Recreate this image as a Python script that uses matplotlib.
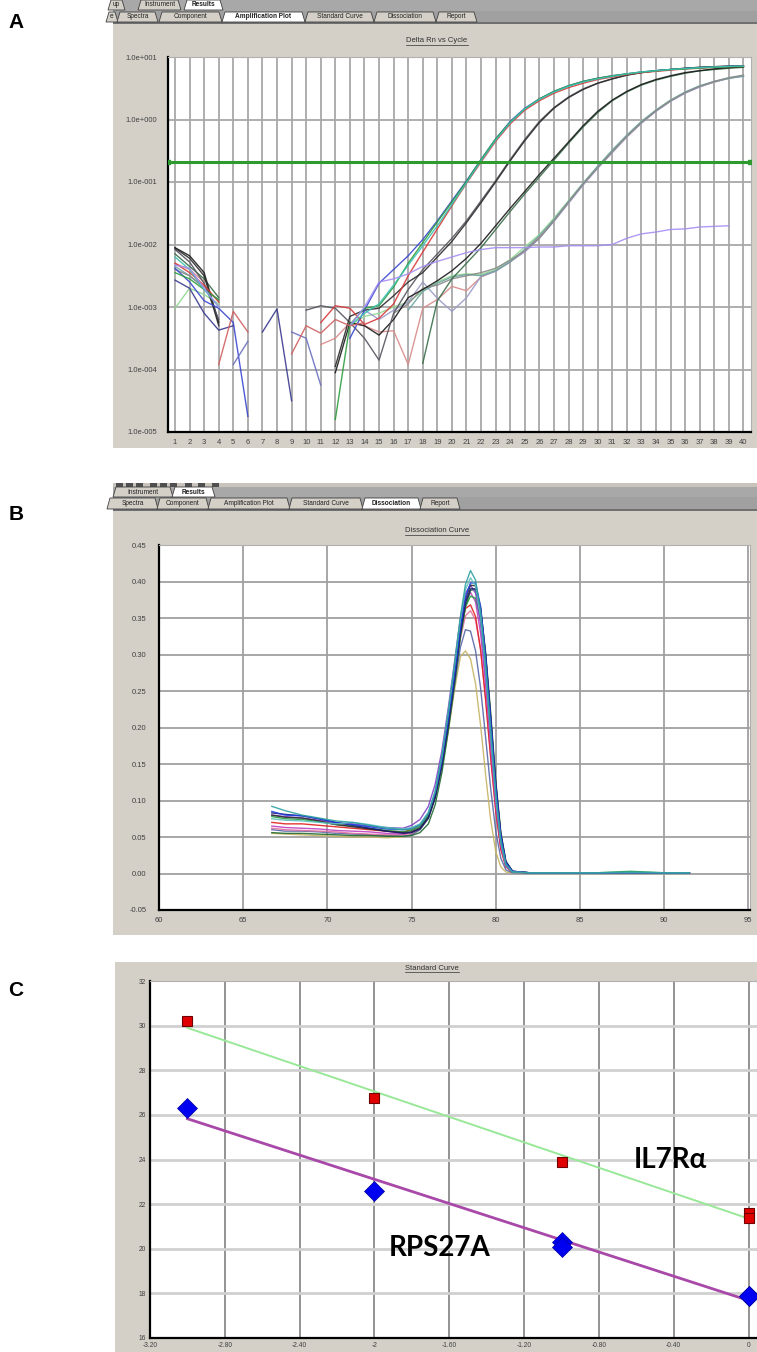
import numpy as np
import matplotlib
matplotlib.use("Agg")
import matplotlib.pyplot as plt
from matplotlib.patches import Rectangle, Polygon
from matplotlib.lines import Line2D

N = np.nan
W, H = 757, 1352

# ---------------- Panel A data: log10(Delta Rn) per cycle 1..40 ----------------
cycles = list(range(1, 41))
threshold = 0.21
amp_cyan = [-2.20, -2.40, -2.72, -3.00] + [N]*8 + [
    -3.30, -3.10, -2.95, -2.65, -2.33, -2.02, -1.70, -1.36, -1.01, -0.66, -0.33, -0.05, 0.17, 0.32,
    0.44, 0.53, 0.60, 0.65, 0.69, 0.73, 0.76, 0.78, 0.80, 0.815, 0.83, 0.84, 0.85, 0.855]
amp_green = [-2.45, -2.55, -2.72, -2.88] + [N]*7 + [
    -4.80, -3.28, -3.02, -2.98, -2.68, -2.30, -1.97, -1.64, -1.32, -0.99, -0.64, -0.31, -0.04, 0.17,
    0.33, 0.45, 0.54, 0.61, 0.66, 0.70, 0.73, 0.76, 0.78, 0.80, 0.81, 0.825, 0.835, 0.845, 0.85]
amp_red = [-2.30, -2.45, -2.65, -2.92] + [N]*6 + [
    -3.25, -2.98, -3.02, -3.28, -3.18, -2.95, -2.50, -2.12, -1.75, -1.38, -1.02, -0.68, -0.35, -0.07,
    0.15, 0.30, 0.42, 0.51, 0.58, 0.64, 0.68, 0.72, 0.75, 0.77, 0.79, 0.81, 0.82, 0.835, 0.845, 0.85]
amp_blue = [-2.38, -2.60, -2.90, -3.02, -3.25, -4.75] + [N]*6 + [
    -3.50, -3.05, -2.62, -2.40, -2.18, -1.92, -1.62, -1.30, -0.98, -0.64, -0.31, -0.03, 0.18, 0.33,
    0.45, 0.54, 0.61, 0.66, 0.70, 0.73, 0.76, 0.78, 0.80, 0.815, 0.83, 0.84, 0.85, 0.855]
amp_black1 = [-2.06, -2.22, -2.50, -3.30] + [N]*7 + [
    -3.95, -3.15, -3.05, -3.02, -2.82, -2.60, -2.45, -2.20, -1.95, -1.65, -1.33, -1.00, -0.66, -0.34,
    -0.05, 0.18, 0.35, 0.48, 0.58, 0.65, 0.71, 0.75, 0.78, 0.80, 0.82, 0.835, 0.845, 0.855, 0.86]
amp_gray1 = [-2.08, -2.28, -2.62, -3.20] + [N]*5 + [
    -3.05, -2.98, -3.02, -3.25, -3.50, -3.85, -3.10, -2.72, -2.40, -2.15, -1.90, -1.62, -1.30, -0.98,
    -0.64, -0.32, -0.03, 0.19, 0.36, 0.49, 0.58, 0.65, 0.71, 0.75, 0.78, 0.80, 0.82, 0.835, 0.845,
    0.85, 0.855]
amp_black2 = [-2.05, -2.18, -2.45, -3.25] + [N]*7 + [
    -4.05, -3.25, -3.30, -3.45, -3.20, -2.85, -2.72, -2.58, -2.42, -2.22, -1.98, -1.70, -1.42, -1.15,
    -0.88, -0.62, -0.36, -0.10, 0.13, 0.31, 0.45, 0.56, 0.64, 0.70, 0.75, 0.78, 0.81, 0.83, 0.845]
amp_darkgreen = [-2.15, -2.35, -2.55, -2.85] + [N]*13 + [
    -3.90, -2.90, -2.55, -2.30, -2.05, -1.76, -1.47, -1.19, -0.92, -0.65, -0.38, -0.12, 0.11, 0.30,
    0.44, 0.55, 0.63, 0.69, 0.74, 0.78, 0.80, 0.82, 0.835]
amp_gray4 = [-2.40, -2.50, -2.68] + [N]*12 + [
    -3.10, -2.95, -2.70, -2.65, -2.55, -2.50, -2.45, -2.38, -2.25, -2.10, -1.90, -1.62, -1.32, -1.03,
    -0.77, -0.52, -0.27, -0.05, 0.14, 0.30, 0.43, 0.53, 0.61, 0.67, 0.71]
amp_cyangray = [-2.35, -2.50, -2.70, -2.90] + [N]*12 + [
    -3.05, -2.75, -2.62, -2.52, -2.48, -2.50, -2.42, -2.28, -2.08, -1.86, -1.60, -1.31, -1.02, -0.75,
    -0.49, -0.25, -0.03, 0.15, 0.31, 0.44, 0.54, 0.61, 0.66, 0.69]
amp_lightgreen = [-3.02, -2.70, -2.80, -2.95] + [N]*8 + [
    -3.30, -3.15, -3.10, -3.00, -2.92, -2.75, -2.60, -2.50, -2.47, -2.48, -2.40, -2.24, -2.04, -1.84,
    -1.58, -1.30, -1.02, -0.75, -0.50, -0.26, -0.04, 0.15, 0.31, 0.43, 0.53, 0.60, 0.66, 0.70]
amp_salmon = [-2.30, -2.40, -2.60] + [N]*7 + [
    -3.60, -3.50, -3.25, -3.30, -3.40, -3.38, -3.92, -3.02, -2.88, -2.67, -2.74, -2.52, -2.42, -2.28,
    -2.10, -1.88, -1.62, -1.33, -1.04, -0.77, -0.51, -0.27, -0.05, 0.14, 0.30, 0.43, 0.53, 0.60,
    0.66, 0.70]
amp_lavgray = [N]*13 + [
    -3.05, -3.20, -3.05, -2.92, -2.60, -2.86, -3.07, -2.85, -2.51, -2.43, -2.27, -2.12, -1.90, -1.63,
    -1.34, -1.05, -0.78, -0.53, -0.28, -0.06, 0.13, 0.29, 0.42, 0.52, 0.60, 0.66, 0.70]
amp_violet = [-2.33, -2.38, -2.70, -3.00] + [N]*8 + [
    -3.30, -3.00, -2.60, -2.55, -2.47, -2.35, -2.27, -2.20, -2.13, -2.08, -2.05, -2.05, -2.05, -2.04,
    -2.04, -2.02, -2.02, -2.02, -2.00, -1.90, -1.83, -1.80, -1.76, -1.75, -1.72, -1.71, -1.70] + [N]
amp_navy = [-2.57, -2.70, -3.10, -3.37, -3.30, N, -3.40, -3.03, -4.50] + [N]*31
amp_slate = [N]*4 + [-3.92, -3.55, N, N, -3.40, -3.50, -4.25] + [N]*29
amp_rose = [N]*3 + [-3.92, -3.07, -3.40, N, N, -3.75, -3.30, -3.42, -3.20, -3.30, -3.25] + [N]*26

# ---------------- Panel B data: melt curve derivative ----------------
temps = [66.7, 67.5, 68.5, 69.5, 70.5, 71.5, 72.5, 73.5, 74.5, 75.0, 75.5, 76.0, 76.4, 76.8, 77.2,
         77.6, 77.9, 78.2, 78.5, 78.8, 79.1, 79.4, 79.7, 80.0, 80.3, 80.6, 81.0, 82.0, 84.0, 86.0,
         88.0, 90.0, 91.5]
melt_teal = [0.092, 0.086, 0.080, 0.076, 0.072, 0.070, 0.066, 0.062, 0.060, 0.061, 0.066, 0.082, 0.112,
             0.160, 0.224, 0.295, 0.352, 0.396, 0.415, 0.402, 0.358, 0.285, 0.195, 0.108, 0.045, 0.012,
             0.002, 0.001, 0.001, 0.001, 0.002, 0.001, 0.001]
melt_blue = [0.085, 0.080, 0.079, 0.075, 0.070, 0.067, 0.064, 0.061, 0.060, 0.062, 0.067, 0.083, 0.110,
             0.154, 0.214, 0.281, 0.337, 0.379, 0.398, 0.398, 0.366, 0.298, 0.210, 0.120, 0.052, 0.015,
             0.003, 0.001, 0.001, 0.001, 0.001, 0.001, 0.001]
melt_purple = [0.080, 0.078, 0.076, 0.073, 0.069, 0.068, 0.065, 0.063, 0.062, 0.066, 0.074, 0.092, 0.122,
               0.168, 0.230, 0.298, 0.350, 0.384, 0.395, 0.384, 0.342, 0.270, 0.185, 0.102, 0.042, 0.011,
               0.002, 0.001, 0.001, 0.001, 0.001, 0.001, 0.001]
melt_green = [0.078, 0.075, 0.074, 0.071, 0.067, 0.065, 0.062, 0.059, 0.057, 0.059, 0.064, 0.079, 0.106,
              0.150, 0.208, 0.275, 0.327, 0.365, 0.380, 0.377, 0.348, 0.284, 0.200, 0.112, 0.047, 0.013,
              0.002, 0.001, 0.001, 0.001, 0.003, 0.001, 0.001]
melt_red = [0.070, 0.068, 0.068, 0.066, 0.064, 0.062, 0.060, 0.058, 0.057, 0.060, 0.066, 0.082, 0.110,
            0.157, 0.218, 0.285, 0.332, 0.363, 0.368, 0.352, 0.307, 0.237, 0.158, 0.085, 0.033, 0.009,
            0.002, 0.001, 0.001, 0.001, 0.001, 0.001, 0.001]
melt_navy = [0.083, 0.081, 0.079, 0.075, 0.070, 0.066, 0.062, 0.058, 0.055, 0.056, 0.061, 0.076, 0.104,
             0.148, 0.207, 0.275, 0.330, 0.371, 0.390, 0.390, 0.361, 0.297, 0.212, 0.122, 0.053, 0.016,
             0.003, 0.001, 0.001, 0.001, 0.001, 0.001, 0.001]
melt_magenta = [0.065, 0.063, 0.062, 0.061, 0.059, 0.058, 0.057, 0.055, 0.054, 0.057, 0.064, 0.081, 0.110,
                0.157, 0.218, 0.286, 0.337, 0.373, 0.385, 0.372, 0.329, 0.257, 0.173, 0.094, 0.038, 0.010,
                0.002, 0.001, 0.001, 0.001, 0.001, 0.001, 0.001]
melt_slate = [0.060, 0.058, 0.058, 0.057, 0.055, 0.054, 0.053, 0.052, 0.051, 0.053, 0.060, 0.076, 0.104,
              0.147, 0.203, 0.265, 0.310, 0.334, 0.332, 0.305, 0.254, 0.186, 0.116, 0.058, 0.021, 0.005,
              0.001, 0.001, 0.001, 0.001, 0.001, 0.001, 0.001]
melt_olive = [0.055, 0.054, 0.053, 0.052, 0.051, 0.050, 0.050, 0.049, 0.050, 0.053, 0.060, 0.076, 0.103,
              0.144, 0.198, 0.258, 0.297, 0.305, 0.294, 0.260, 0.203, 0.135, 0.073, 0.030, 0.009, 0.002,
              0.001, 0.001, 0.001, 0.001, 0.001, 0.001, 0.001]
melt_darkgreen = [0.056, 0.055, 0.055, 0.054, 0.053, 0.052, 0.052, 0.051, 0.051, 0.052, 0.056, 0.068, 0.094,
                  0.138, 0.198, 0.268, 0.324, 0.366, 0.388, 0.389, 0.362, 0.302, 0.220, 0.127, 0.057, 0.017,
                  0.003, 0.001, 0.001, 0.001, 0.001, 0.001, 0.001]
melt_lightteal = [0.075, 0.073, 0.072, 0.070, 0.068, 0.070, 0.067, 0.063, 0.061, 0.063, 0.068, 0.084, 0.113,
                  0.160, 0.224, 0.293, 0.348, 0.389, 0.405, 0.394, 0.352, 0.278, 0.190, 0.105, 0.043, 0.012,
                  0.002, 0.001, 0.001, 0.001, 0.001, 0.001, 0.001]
melt_pink = [0.062, 0.060, 0.059, 0.058, 0.057, 0.055, 0.054, 0.053, 0.053, 0.055, 0.062, 0.078, 0.106,
             0.152, 0.211, 0.275, 0.322, 0.353, 0.360, 0.347, 0.306, 0.240, 0.160, 0.088, 0.035, 0.010,
             0.002, 0.001, 0.001, 0.001, 0.001, 0.001, 0.001]
melt_black = [0.080, 0.077, 0.076, 0.072, 0.067, 0.064, 0.061, 0.058, 0.056, 0.057, 0.062, 0.077, 0.105,
              0.150, 0.210, 0.279, 0.335, 0.376, 0.395, 0.394, 0.364, 0.300, 0.214, 0.124, 0.054, 0.016,
              0.003, 0.001, 0.001, 0.001, 0.001, 0.001, 0.001]

# ---------------- Panel C data: standard curves ----------------
il7_logq = [-3, -2, -1, 0, 0]
il7_ct = [30.2, 26.75, 23.9, 21.6, 21.4]
rps_logq = [-3, -2, -1, -1, 0, 0]
rps_ct = [26.3, 22.6, 20.3, 20.1, 17.9, 17.9]
c_xticks = [-3.2, -2.8, -2.4, -2.0, -1.6, -1.2, -0.8, -0.4, 0.0]
c_xlabels = ["-3.20", "-2.80", "-2.40", "-2", "-1.60", "-1.20", "-0.80", "-0.40", "0"]
c_yticks = [16, 18, 20, 22, 24, 26, 28, 30, 32]

# ======================================================================
GRAY = "#d4d0c8"
fig = plt.figure(figsize=(W / 100, H / 100), dpi=100)
fig.patch.set_facecolor("white")


def fr(x0, y0, x1, y1):
    """pixel box (top-left origin) -> figure fraction rect"""
    return [x0 / W, 1 - y1 / H, (x1 - x0) / W, (y1 - y0) / H]


def rect(x0, y0, x1, y1, fc, ec="none", lw=0.0, z=0):
    r = Rectangle((x0 / W, 1 - y1 / H), (x1 - x0) / W, (y1 - y0) / H, transform=fig.transFigure,
                  facecolor=fc, edgecolor=ec, lw=lw, zorder=z)
    fig.add_artist(r)


def tab(x0, x1, y0, y1, label, selected=False):
    s = 3
    pts = [(x0, y1), (x0 + s, y0), (x1, y0), (x1 + s, y1)]
    pts = [(px / W, 1 - py / H) for px, py in pts]
    fc = "white" if selected else "#d4d0c8"
    p = Polygon(pts, closed=True, transform=fig.transFigure, facecolor=fc, edgecolor="#404040",
                lw=0.6, zorder=2)
    fig.add_artist(p)
    fig.text((x0 + x1 + s) / 2 / W, 1 - (y0 + y1) / 2 / H, label, fontsize=4.7, ha="center",
             va="center", family="Liberation Sans", weight="bold" if selected else "normal",
             color="#202020", zorder=3)


def utitle(xc, yc, s):
    t = fig.text(xc / W, 1 - yc / H, s, fontsize=5.5, ha="center", va="center",
                 family="Liberation Sans", color="#303030")
    fig.canvas.draw()
    bb = t.get_window_extent()
    yy = bb.y0 - 0.5
    fig.add_artist(Line2D([bb.x0 / W, bb.x1 / W], [yy / H, yy / H], transform=fig.transFigure,
                          color="#303030", lw=0.5))


# Panel backgrounds
rect(113, 0, 757, 448, GRAY)
rect(113, 483, 757, 935, GRAY)
rect(115, 962, 757, 1352, GRAY)

# Panel A tabs
rect(113, 0, 757, 11, "#a8a8a8", z=1)
rect(113, 11, 757, 23, "#a0a0a0", z=1)
rect(113, 22, 757, 24, "#707070", z=1)
tab(108, 122, 0, 10, "up")
tab(138, 178, 0, 10, "Instrument")
tab(184, 220, 0, 10, "Results", True)
tab(106, 115, 12, 22, "e")
tab(117, 155, 12, 22, "Spectra")
tab(159, 219, 12, 22, "Component")
tab(222, 302, 12, 22, "Amplification Plot", True)
tab(305, 371, 12, 22, "Standard Curve")
tab(374, 433, 12, 22, "Dissociation")
tab(436, 474, 12, 22, "Report")

# Panel B toolbar + tabs
rect(113, 483, 757, 487, "#c8c4bc", z=1)
for ix in [116, 126, 136, 150, 160, 170, 185, 198, 212]:
    rect(ix, 483, ix + 7, 487, "#505050", z=1)
rect(113, 487, 757, 497, "#a8a8a8", z=1)
rect(113, 497, 757, 510, "#a0a0a0", z=1)
rect(113, 509, 757, 511, "#707070", z=1)
tab(113, 170, 487, 497, "Instrument")
tab(172, 212, 487, 497, "Results", True)
tab(107, 155, 498, 509, "Spectra")
tab(157, 206, 498, 509, "Component")
tab(208, 287, 498, 509, "Amplification Plot")
tab(289, 360, 498, 509, "Standard Curve")
tab(362, 418, 498, 509, "Dissociation", True)
tab(420, 457, 498, 509, "Report")

# Panel letters
for letter, (lx, ly) in {"A": (16, 22), "B": (16, 515), "C": (16, 990)}.items():
    fig.text(lx / W, 1 - ly / H, letter, fontsize=15, weight="bold", family="Liberation Sans",
             ha="center", va="center")

TICKC = "#404040"


def style_axes(ax, gridc="#a8a8a8", glw=1.3):
    ax.set_facecolor("white")
    for side in ["left", "bottom"]:
        ax.spines[side].set_color("black")
        ax.spines[side].set_linewidth(1.6)
    for side in ["top", "right"]:
        ax.spines[side].set_color("#b0b0b0")
        ax.spines[side].set_linewidth(0.8)
    ax.tick_params(length=0, labelsize=5.5, labelcolor=TICKC, pad=5)
    for lab in ax.get_xticklabels() + ax.get_yticklabels():
        lab.set_family("Liberation Sans")
    ax.set_axisbelow(True)
    ax.grid(True, color=gridc, lw=glw)


# ---------------- Panel A ----------------
axA = fig.add_axes(fr(168, 57, 751, 432))
axA.set_yscale("log")
amp_series = [
    (amp_lightgreen, "#8fd88f"), (amp_salmon, "#d98a8a"), (amp_lavgray, "#9a9ac8"),
    (amp_cyangray, "#6fa3a3"), (amp_gray4, "#8a8a8a"), (amp_darkgreen, "#3a6e4a"),
    (amp_black2, "#1a1a1a"), (amp_gray1, "#555560"), (amp_black1, "#2a2a2a"),
    (amp_blue, "#3a48d0"), (amp_red, "#d83a3a"), (amp_green, "#2e9e3e"), (amp_cyan, "#3bbfb0"),
    (amp_violet, "#a68ef2"), (amp_navy, "#3a3a90"), (amp_slate, "#6a70c0"), (amp_rose, "#d06060"),
]
for vals, col in amp_series:
    assert len(vals) == 40
    axA.plot(cycles, 10 ** np.array(vals, dtype=float), color=col, lw=1.0, alpha=0.9, zorder=3)
axA.axhline(threshold, color="#2f9a2f", lw=2.2, zorder=4)
axA.plot([0.55, 40.45], [threshold, threshold], ls="none", marker="s", ms=2.5, color="#2f9a2f",
         zorder=5)
axA.set_xlim(0.52, 40.52)
axA.set_ylim(1e-5, 1e1)
axA.set_xticks(cycles)
axA.set_xticklabels([str(c) for c in cycles])
dec = [1e-5, 1e-4, 1e-3, 1e-2, 1e-1, 1e0, 1e1]
axA.set_yticks(dec)
axA.set_yticklabels(["1.0e-005", "1.0e-004", "1.0e-003", "1.0e-002", "1.0e-001", "1.0e+000",
                     "1.0e+001"])
axA.yaxis.set_minor_locator(matplotlib.ticker.NullLocator())
style_axes(axA)
axA.tick_params(axis="y", pad=8)
utitle(437, 41, "Delta Rn vs Cycle")

# ---------------- Panel B ----------------
axB = fig.add_axes(fr(159, 545, 750, 910))
melt_series = [
    (melt_olive, "#c8b464"), (melt_slate, "#5868a8"), (melt_pink, "#e070a0"), (melt_red, "#e02020"),
    (melt_magenta, "#c040c0"), (melt_green, "#20a040"), (melt_darkgreen, "#206a30"),
    (melt_purple, "#8040c8"), (melt_black, "#303030"), (melt_navy, "#1a1a70"),
    (melt_blue, "#2040e0"), (melt_lightteal, "#60c0c0"), (melt_teal, "#30a0a0"),
]
for vals, col in melt_series:
    assert len(vals) == len(temps)
    axB.plot(temps, vals, color=col, lw=1.0, alpha=0.9, zorder=3)
axB.set_xlim(60, 95.1)
axB.set_ylim(-0.05, 0.45)
axB.set_xticks([60, 65, 70, 75, 80, 85, 90, 95])
yb = np.round(np.arange(-0.05, 0.451, 0.05), 2)
axB.set_yticks(yb)
axB.set_yticklabels([f"{v:.2f}" for v in yb])
style_axes(axB, gridc="#a0a0a0", glw=1.3)
axB.tick_params(axis="y", pad=9)
utitle(437, 531, "Dissociation Curve")

# ---------------- Panel C ----------------
axC = fig.add_axes(fr(150, 981, 757, 1338))
axC.set_xlim(-3.2, 0.045)
axC.set_ylim(16, 32)
style_axes(axC)
axC.grid(False)
for xv in c_xticks[1:]:
    axC.axvline(xv, color="#8a8a8a", lw=1.3, zorder=1)
for yv in c_yticks[1:-1]:
    axC.axhline(yv, color="#d0d0d0", lw=2.0, zorder=1)
fit_il7 = np.polyfit(il7_logq, il7_ct, 1)
fit_rps = np.polyfit(rps_logq, rps_ct, 1)
xfit = np.array([min(il7_logq), max(il7_logq)])
axC.plot(xfit, np.polyval(fit_il7, xfit), color="#98e898", lw=1.4, zorder=3)
axC.plot(xfit, np.polyval(fit_rps, xfit), color="#a848a8", lw=2.0, zorder=3)
axC.plot(il7_logq, il7_ct, ls="none", marker="s", ms=6.5, mfc="#e00000", mec="#700000", mew=0.8,
         zorder=4)
axC.plot(rps_logq, rps_ct, ls="none", marker="D", ms=10, mfc="#0000f0", mec="#0000a0", mew=0.5,
         zorder=4)
axC.set_xticks(c_xticks)
axC.set_xticklabels(c_xlabels)
axC.set_yticks(c_yticks)
axC.tick_params(labelsize=4.8, pad=3)
axC.text(-0.42, 24.0, "IL7Rα", fontsize=20, weight="bold", family=["Lato", "DejaVu Sans"],
         ha="center", va="center", zorder=6)
axC.text(-1.65, 20.05, "RPS27A", fontsize=20, weight="bold", family=["Lato", "DejaVu Sans"],
         ha="center", va="center", zorder=6)
utitle(432, 968, "Standard Curve")

fig.savefig("out.png", dpi=100, facecolor="white")
